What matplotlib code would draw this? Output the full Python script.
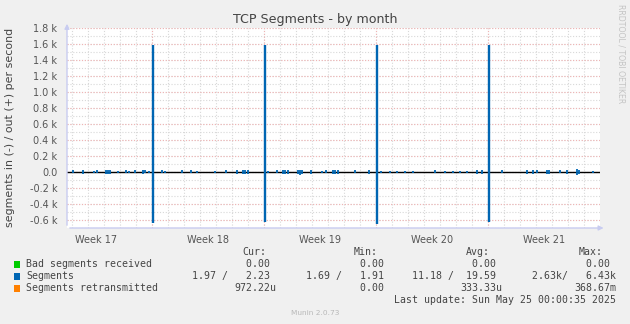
import matplotlib.pyplot as plt
import numpy as np

# time axis is in days since the left edge of the graph (33.3 days shown)
week_labels = ['Week 17', 'Week 18', 'Week 19', 'Week 20', 'Week 21']
week_starts = [5.31, 12.31, 19.31, 26.31]
x_end = 33.31

# big weekly bursts: out (+) and in (-) in segments/s
spike_days = [5.37, 12.37, 19.37, 26.37]
spike_out = [1590, 1590, 1590, 1590]
spike_in = [640, 630, 650, 620]

# small bursts around zero
blip_days = [0.38, 1.00, 1.69, 1.88, 2.44, 2.56, 2.69, 3.19, 3.69, 3.88, 4.25, 4.75,
             4.88, 5.13, 5.94, 6.13, 7.19, 7.75, 8.13, 9.25, 9.94, 10.63, 11.00, 11.13,
             11.31, 12.56, 13.13, 13.50, 13.63, 13.81, 14.44, 14.56, 14.69, 15.25, 15.94,
             16.19, 16.63, 16.75, 16.94, 18.00, 18.88, 19.63, 20.19, 20.63, 21.13, 21.63,
             23.00, 23.63, 24.13, 24.56, 25.00, 25.63, 25.94, 27.19, 28.75, 29.13, 29.38,
             30.00, 30.13, 30.81, 31.25, 31.88, 32.00, 32.88]
blip_out = [20, 25, 18, 22, 30, 28, 26, 18, 20, 16, 20, 24, 22, 18, 20, 18, 24, 22, 18,
            16, 20, 24, 26, 28, 24, 18, 22, 28, 26, 24, 30, 28, 26, 22, 18, 20, 26, 28, 24,
            22, 20, 18, 16, 18, 16, 18, 20, 16, 18, 16, 18, 22, 24, 20, 24, 26, 20, 30, 28,
            22, 24, 34, 30, 16]
blip_in = [10, 22, 14, 16, 26, 24, 22, 16, 18, 12, 14, 20, 18, 16, 14, 12, 18, 16, 14,
           12, 16, 22, 30, 24, 20, 14, 16, 22, 24, 20, 26, 36, 22, 26, 14, 18, 22, 24, 20,
           18, 22, 14, 12, 14, 14, 16, 14, 12, 14, 12, 16, 20, 22, 16, 22, 20, 18, 26, 24,
           18, 22, 36, 30, 12]

# legend table
legend_names = ['Bad segments received', 'Segments', 'Segments retransmitted']
legend_colors = ['#00cc00', '#0066b3', '#ff8000']
legend_headers = ['Cur:', 'Min:', 'Avg:', 'Max:']
legend_rows = [
    ['0.00 ', '0.00 ', '0.00 ', '0.00 '],
    ['1.97 /   2.23 ', '1.69 /   1.91 ', '11.18 /  19.59 ', '2.63k/   6.43k'],
    ['972.22u', '0.00 ', '333.33u', '368.67m'],
]
last_update = 'Last update: Sun May 25 00:00:35 2025'

W, H = 630, 324
fig = plt.figure(figsize=(W / 100, H / 100), dpi=100, facecolor='#f0f0f0')
ax = fig.add_axes([67 / W, 1 - 228 / H, 533 / W, 200 / H])
ax.set_facecolor('white')
ax.set_xlim(0, x_end)
ax.set_ylim(-700, 1800)

# grid: gray every day / 100, red every week / 200
minor_col = '#d8d8d8'
major_col = '#f0b4b4'
dots = (0, (1, 1.6))
for d in np.arange(week_starts[0] - 5, x_end, 1.0):
    ax.axvline(d, color=minor_col, lw=0.8, ls=dots, zorder=1)
for v in np.arange(-700, 1801, 100):
    ax.axhline(v, color=minor_col, lw=0.8, ls=dots, zorder=1)
for v in np.arange(-600, 1801, 200):
    ax.axhline(v, color=major_col, lw=0.8, ls=dots, zorder=1.5)
for d in week_starts:
    ax.axvline(d, color=major_col, lw=0.8, ls=dots, zorder=1.5)

ax.axhline(0, color='black', lw=1.0, zorder=2)

seg_col = '#0066b3'
ax.vlines(spike_days, 0, spike_out, color=seg_col, lw=1.7, zorder=3)
ax.vlines(spike_days, 0, [-v for v in spike_in], color=seg_col, lw=1.7, zorder=3)
ax.vlines(blip_days, 0, blip_out, color=seg_col, lw=1.3, zorder=3)
ax.vlines(blip_days, 0, [-v for v in blip_in], color=seg_col, lw=1.3, zorder=3)

# y ticks
yt = np.arange(-600, 1801, 200)
ax.set_yticks(yt)
ax.set_yticklabels(['0.0' if v == 0 else '%.1f k' % (v / 1000) for v in yt])
week_mid = [week_starts[0] - 3.5] + [w + 3.5 for w in week_starts]
ax.set_xticks(week_mid)
ax.set_xticklabels(week_labels)
ax.tick_params(axis='both', length=0, labelsize=7, colors='#555555', pad=5)
ax.tick_params(axis='y', pad=7)

for s in ax.spines.values():
    s.set_visible(False)
axis_col = '#c8ccf0'
ax.annotate('', xy=(0, 1.035), xytext=(0, 0), xycoords='axes fraction',
            arrowprops=dict(arrowstyle='-|>', color=axis_col, lw=1, mutation_scale=7),
            annotation_clip=False, zorder=5)
ax.annotate('', xy=(1.012, 0), xytext=(0, 0), xycoords='axes fraction',
            arrowprops=dict(arrowstyle='-|>', color=axis_col, lw=1, mutation_scale=7),
            annotation_clip=False, zorder=5)

fig.text(315.5 / W, 1 - 19 / H, 'TCP Segments - by month', ha='center', va='center',
         fontsize=9.1, color='#444444')
fig.text(10 / W, 1 - 127.5 / H, 'segments in (-) / out (+) per second', rotation=90,
         ha='center', va='center', fontsize=7.9, color='#444444')
fig.text(621 / W, 1 - 54 / H, 'RRDTOOL / TOBI OETIKER', rotation=270, ha='center',
         va='center', fontsize=5.6, color='#c4c4c4')

# legend block
mono = 'DejaVu Sans Mono'
fs = 7.1
col_right = [276, 390, 502, 616]
head_right = [266, 378, 490, 603]
for x, t in zip(head_right, legend_headers):
    fig.text(x / W, 1 - 252 / H, t, ha='right', va='center', family=mono, fontsize=fs,
             color='#444444')
for i, (name, c, row) in enumerate(zip(legend_names, legend_colors, legend_rows)):
    y = 264 + 12 * i
    fig.patches.append(plt.Rectangle((13.5 / W, 1 - (y + 3.5) / H), 6.5 / W, 6.5 / H,
                                     transform=fig.transFigure, color=c, lw=0))
    fig.text(26 / W, 1 - y / H, name, ha='left', va='center', family=mono, fontsize=fs,
             color='#444444')
    for x, t in zip(col_right, row):
        fig.text(x / W, 1 - y / H, t, ha='right', va='center', family=mono, fontsize=fs,
                 color='#444444')
fig.text(616 / W, 1 - 300 / H, last_update, ha='right', va='center', family=mono,
         fontsize=fs, color='#444444')
fig.text(315 / W, 1 - 313 / H, 'Munin 2.0.73', ha='center', va='center', fontsize=5.3,
         color='#b8b8b8')

fig.savefig('out.png', dpi=100, facecolor=fig.get_facecolor())
